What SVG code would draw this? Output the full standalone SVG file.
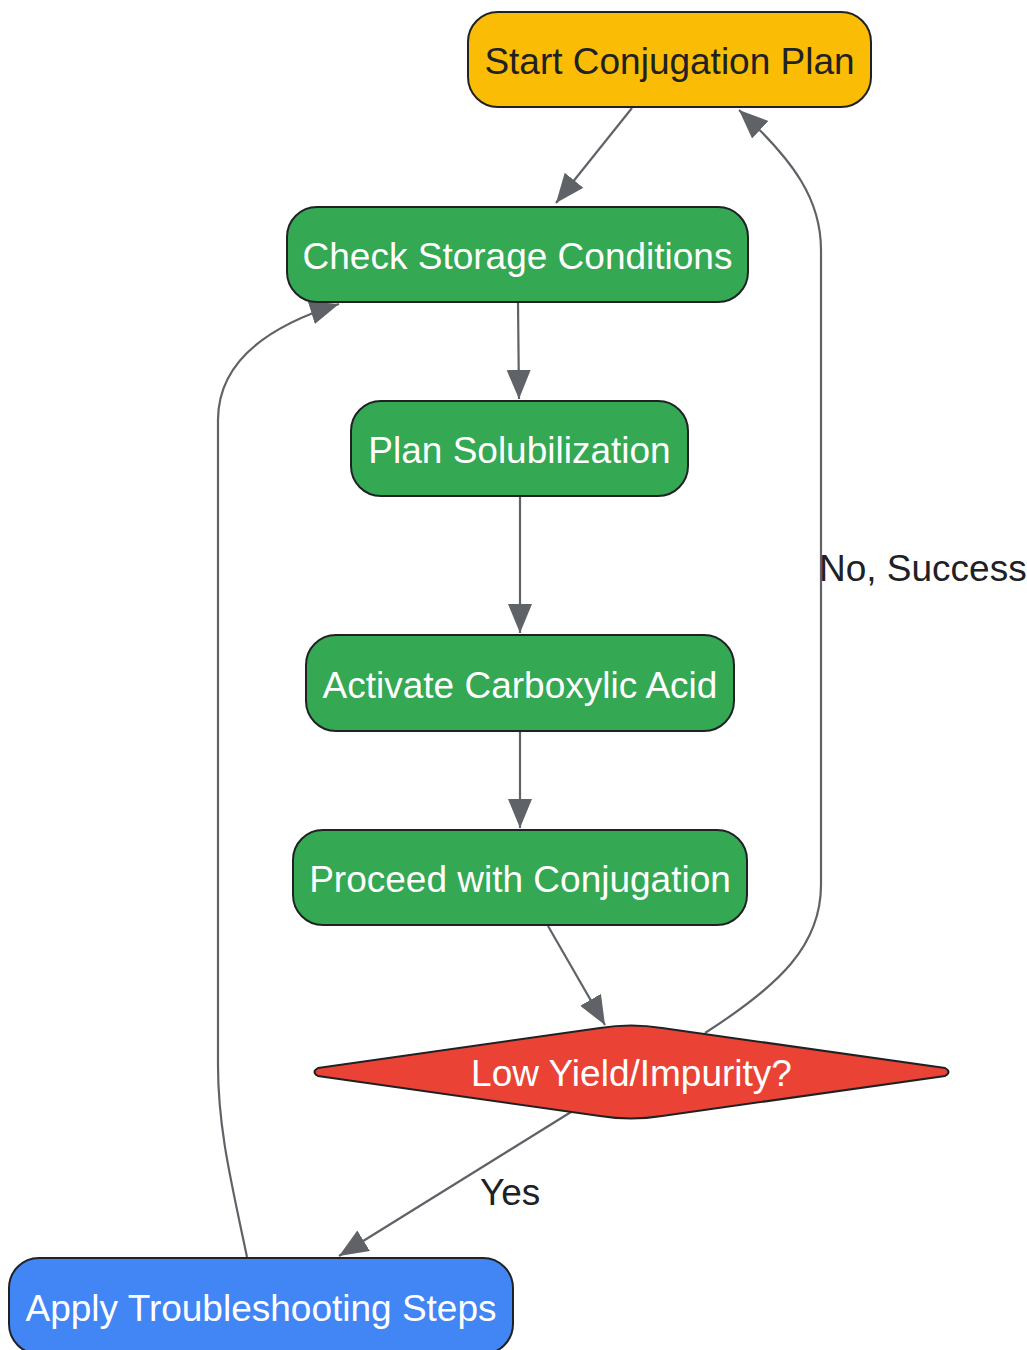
<svg xmlns="http://www.w3.org/2000/svg" width="1027" height="1350" viewBox="0 0 1027 1350">
<style>
.node{stroke:#202124;stroke-width:2}
.t{font-family:"Liberation Sans",Arial,sans-serif;font-size:37px;text-anchor:middle}
.w{fill:#ffffff}
.d{fill:#202124}
.e{fill:none;stroke:#5f6368;stroke-width:2.2;marker-end:url(#arr)}
.lbl{font-family:"Liberation Sans",Arial,sans-serif;font-size:37px;fill:#202124}
</style>
<defs>
<marker id="arr" markerUnits="userSpaceOnUse" markerWidth="32" markerHeight="26" refX="29" refY="12" orient="auto">
<path d="M0,0 L29,12 L0,24 z" fill="#5f6368"/>
</marker>
</defs>
<rect width="1027" height="1350" fill="#ffffff"/>
<g id="edges">
<path class="e" d="M632,108 L556,203"/>
<path class="e" d="M518,303 L519,399"/>
<path class="e" d="M520,497 L520,633"/>
<path class="e" d="M520,732 L520,828"/>
<path class="e" d="M548,926 L605,1025"/>
<path class="e" d="M705,1033 C780,985 821,945 821,885 L821,250 C821,200 795,162 739,110"/>
<path class="e" d="M571,1112 L339,1256"/>
<path class="e" d="M247,1257 C232,1185 218,1130 218,1065 L218,420 C218,370 255,330 339,304"/>
<text class="lbl" x="819" y="581">No, Success</text>
<text class="lbl" x="480" y="1205">Yes</text>
</g>
<g id="start">
<rect class="node" x="468" y="12" width="403" height="95" rx="30" fill="#fbbc05"/>
<text class="t d" x="669.5" y="74">Start Conjugation Plan</text>
</g>
<g id="check">
<rect class="node" x="287" y="207" width="461" height="95" rx="30" fill="#34a853"/>
<text class="t w" x="517.5" y="269">Check Storage Conditions</text>
</g>
<g id="plan">
<rect class="node" x="351" y="401" width="337" height="95" rx="30" fill="#34a853"/>
<text class="t w" x="519.5" y="463">Plan Solubilization</text>
</g>
<g id="activate">
<rect class="node" x="306" y="635" width="428" height="96" rx="30" fill="#34a853"/>
<text class="t w" x="520" y="698">Activate Carboxylic Acid</text>
</g>
<g id="proceed">
<rect class="node" x="293" y="830" width="454" height="95" rx="30" fill="#34a853"/>
<text class="t w" x="520" y="892">Proceed with Conjugation</text>
</g>
<g id="decision">
<path class="node" fill="#ea4335" d="M318,1068 L600,1028 Q631,1023 662,1028 L945,1068 Q952,1072 945,1076 L662,1116 Q631,1121 600,1116 L318,1076 Q311,1072 318,1068 Z"/>
<text class="t w" x="631.5" y="1086">Low Yield/Impurity?</text>
</g>
<g id="troubleshoot">
<rect class="node" x="9" y="1258" width="504" height="96" rx="30" fill="#4285f4"/>
<text class="t w" x="261" y="1321">Apply Troubleshooting Steps</text>
</g>
</svg>
